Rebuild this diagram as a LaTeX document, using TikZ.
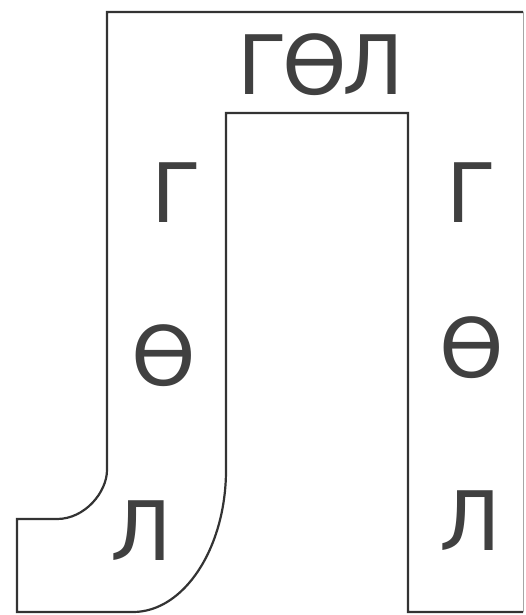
\documentclass[tikz,border=0pt]{standalone}
\usepackage{fontspec}
\setmainfont{DejaVu Sans}
\begin{document}
\begin{tikzpicture}[x=1pt,y=-1pt,
  outline/.style={draw=black!80,line width=2.2pt,line join=miter},
  edgeline/.style={draw=black!35,line width=1pt},
  letter/.style={inner sep=0pt,anchor=base,text=black!75,font=\fontsize{82}{82}\selectfont}]
\useasboundingbox[fill=white] (0,0) rectangle (526,615);
% outline of the shape
\draw[outline] (523,12) -- (107,12) -- (107,470)
  .. controls (107,492) and (85,519) .. (57,519)
  -- (17,519) -- (17,612) -- (133,612)
  .. controls (184,612) and (226,548) .. (226,470)
  -- (226,113) -- (408,113) -- (408,612) -- (523,612);
\draw[edgeline] (523,12) -- (523,612);
% texts
\node[letter] (word) at (321,95) {Г\kern-5ptӨ\kern-5ptЛ};
\node[letter] (lg) at (177,222) {Г};
\node[letter] (lo) at (164,385) {Ө};
\node[letter] (ll) at (141,560) {Л};
\node[letter] (rg) at (471,222) {Г};
\node[letter] (ro) at (472,377) {Ө};
\node[letter] (rl) at (470,550) {Л};
\end{tikzpicture}
\end{document}
